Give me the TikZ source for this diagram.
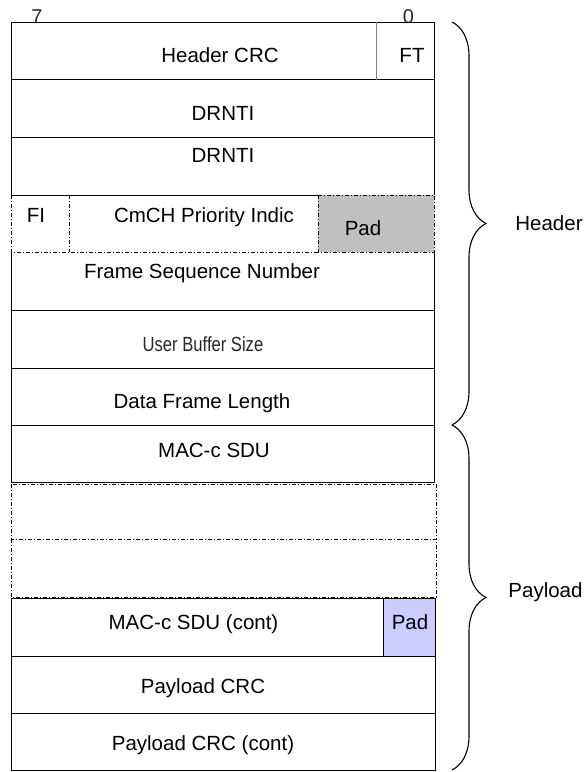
\documentclass[tikz,border=0pt]{standalone}
\usepackage{fontspec}
\setmainfont{Liberation Sans}
\usetikzlibrary{decorations.pathreplacing}
\definecolor{padgray}{RGB}{192,192,192}
\definecolor{padblue}{RGB}{204,204,255}
\begin{document}
\begin{tikzpicture}[x=1pt,y=-1pt,
  every node/.style={inner sep=0pt,outer sep=0pt,font=\fontsize{20.5}{24}\selectfont},
  lbl/.style={anchor=base},
  bitlbl/.style={anchor=base,text=black!85,font=\fontsize{20}{24}\selectfont},
  solidline/.style={draw=black,line width=1pt},
  dashdot/.style={draw=black,line width=1pt,dash pattern=on 4pt off 2pt on 1pt off 2pt},
  bracestyle/.style={draw=black,line width=1.1pt,decorate,decoration={brace,amplitude=34pt,aspect=0.5}}]
\useasboundingbox (0,0) rectangle (585,772);
% bit numbers
\node[bitlbl] (b7) at (37,23.5) {7};
\node[bitlbl] (b0) at (408.5,23.5) {0};
\fill[white] (11,22) rectangle (434,195);
% rows 1-3
\draw[solidline] (11,195) -- (11,22) -- (434,22) -- (434,195);
\draw[solidline] (11,79.5) -- (434,79.5);
\draw[solidline] (11,137) -- (434,137);
\draw[solidline] (11,195) -- (318,195);
\draw[draw=gray,line width=0.8pt] (376,22) -- (376,79.5);
% row 4
\draw[dashdot] (11,195) -- (11,252) -- (318,252);
\draw[dashdot] (69,195) -- (69,252);
\draw[dashdot,fill=padgray] (318,195) rectangle (434,252);
% rows 5-8
\draw[solidline] (11,252) -- (11,482) -- (434,482) -- (434,252);
\draw[solidline] (11,310) -- (434,310);
\draw[solidline] (11,368) -- (434,368);
\draw[solidline] (11,425) -- (434,425);
% rows 9-10
\draw[dashdot] (11,484) rectangle (436,539);
\draw[dashdot] (11,539) rectangle (436,597);
% rows 11-13
\draw[solidline] (11,598) rectangle (435,770);
\draw[solidline,fill=padblue] (383,598) rectangle (435,656);
\draw[solidline] (11,656) -- (435,656);
\draw[solidline] (11,713) -- (435,713);
% texts
\node[lbl] (hcrc) at (220,62) {Header CRC};
\node[lbl] (ft) at (412,62) {FT};
\node[lbl] (drnti1) at (223,120) {DRNTI};
\node[lbl] (drnti2) at (223,162) {DRNTI};
\node[lbl] (fi) at (36,222) {FI};
\node[lbl] (cmch) at (204,222) {CmCH Priority Indic};
\node[lbl] (pad1) at (363,235) {Pad};
\node[lbl] (fsn) at (202,278) {Frame Sequence Number};
\node[lbl,text=black!85] (ubs) at (203,351) {\scalebox{0.81}[1]{User Buffer Size}};
\node[lbl] (dfl) at (202,408) {Data Frame Length};
\node[lbl] (sdu) at (214,457) {MAC-c SDU};
\node[lbl] (sduc) at (193.5,629) {MAC-c SDU (cont)};
\node[lbl] (pad2) at (410,629) {Pad};
\node[lbl] (pcrc) at (203,693) {Payload CRC};
\node[lbl] (pcrcc) at (203,750) {Payload CRC (cont)};
% braces
\coordinate (hb1) at (452,22);
\coordinate (hb2) at (452,425);
\coordinate (pb1) at (452,425);
\coordinate (pb2) at (452,770);
\draw[bracestyle] (hb1) -- (hb2);
\draw[bracestyle] (pb1) -- (pb2);
\node[lbl] (hdr) at (549,230) {Header};
\node[lbl] (pay) at (545.5,597) {Payload};
\end{tikzpicture}
\end{document}
